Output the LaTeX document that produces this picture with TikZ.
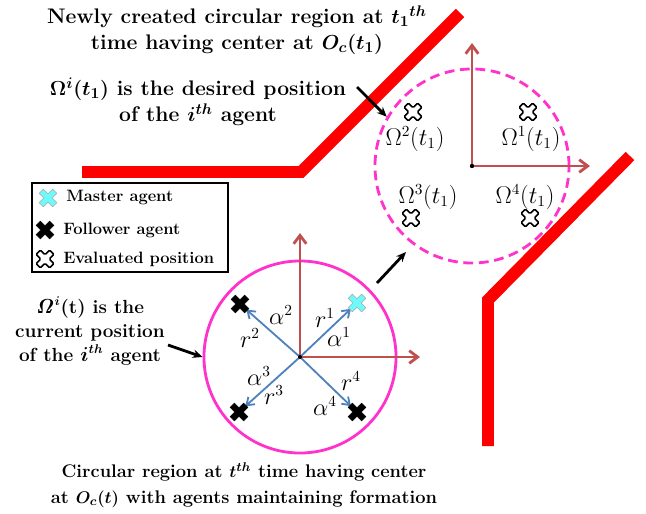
\documentclass[tikz,border=0pt]{standalone}
\usepackage{tikz}
\usetikzlibrary{arrows.meta, positioning, calc}
\usepackage{amsmath, amssymb}
\usepackage{xcolor}

\definecolor{wallred}{RGB}{255,0,0}
\definecolor{ringpink}{RGB}{255,51,204}
\definecolor{axisred}{RGB}{192,80,77}
\definecolor{vecblue}{RGB}{79,129,189}
\definecolor{mastercyan}{RGB}{110,250,250}

\tikzset{
  xmark/.pic={
    \path[pic actions, rotate=45]
      (3,3) -- (3,9.5) -- (-3,9.5) -- (-3,3) -- (-9.5,3) -- (-9.5,-3)
      -- (-3,-3) -- (-3,-9.5) -- (3,-9.5) -- (3,-3) -- (9.5,-3)
      -- (9.5,3) -- cycle;
  }
}

\begin{document}
\begin{tikzpicture}[
  x=0.025cm, y=-0.025cm, >=Stealth,
  wall/.style={wallred, line width=8.5pt, line join=miter},
  ring/.style={circle, draw=ringpink, line width=2pt, inner sep=0pt,
               minimum size=4.8cm},
  axis/.style={-{Straight Barb[length=6pt, width=9pt]}, axisred, line width=2pt},
  vec/.style={-{Straight Barb[length=5pt, width=7pt]}, vecblue, line width=1.3pt,
              shorten >=6pt},
  ptr/.style={-{Stealth[length=7pt, width=6pt]}, black, line width=2pt},
  note/.style={font=\fontsize{15}{18.5}\selectfont\bfseries\boldmath, align=center},
  lbl/.style={font=\fontsize{16}{18}\selectfont, inner sep=1pt},
  leg/.style={font=\fontsize{11.7}{13}\selectfont\bfseries, anchor=west, inner sep=0pt},
  master/.style={fill=mastercyan, draw=gray!70, line width=0.4pt},
  follower/.style={fill=black, draw=black, line width=0.4pt},
  evaluated/.style={fill=white, draw=black, line width=1.1pt, rounded corners=0.8pt}
]
  \useasboundingbox (0,0) rectangle (646,514);

  %--- walls ---
  \draw[wall] (82,172) -- (301,172) -- (460,13);
  \draw[wall] (630,156) -- (488,300) -- (488,446);

  %--- new circular region at t1 ---
  \coordinate (oc1) at (472,166);
  \node[ring, dashed, dash pattern=on 7pt off 4pt, minimum size=4.85cm]
    (reg1) at (oc1) {};
  \coordinate (ax1y) at (472,43);
  \coordinate (ax1x) at (590,166);
  \draw[axis] (oc1) -- (ax1y);
  \draw[axis] (oc1) -- (ax1x);
  \fill (oc1) circle (2.2);

  \coordinate (ev1) at (528,112);
  \coordinate (ev2) at (413,112);
  \coordinate (ev3) at (411,218);
  \coordinate (ev4) at (530,218);
  \foreach \p in {ev1,ev2,ev3,ev4}
    \pic[evaluated] at (\p) {xmark};

  \node[lbl] (om1) at (531,139) {$\Omega^1(t_1)$};
  \node[lbl] (om2) at (415,139) {$\Omega^2(t_1)$};
  \node[lbl] (om3) at (428,197) {$\Omega^3(t_1)$};
  \node[lbl] (om4) at (525,197) {$\Omega^4(t_1)$};

  %--- current circular region at t ---
  \coordinate (oc0) at (300,357);
  \node[ring] (reg0) at (oc0) {};
  \coordinate (ax0y) at (300,233);
  \coordinate (ax0x) at (420,357);
  \draw[axis] (oc0) -- (ax0y);
  \draw[axis] (oc0) -- (ax0x);

  \coordinate (ag1) at (357,303);
  \coordinate (ag2) at (240,304);
  \coordinate (ag3) at (239,412);
  \coordinate (ag4) at (357,412);
  \foreach \p in {ag1,ag2,ag3,ag4}
    \draw[vec] (oc0) -- (\p);
  \fill (oc0) circle (2);
  \pic[master] at (ag1) {xmark};
  \foreach \p in {ag2,ag3,ag4}
    \pic[follower] at (\p) {xmark};

  \node[lbl] (r1) at (325,318) {$r^1$};
  \node[lbl] (a1) at (339,337) {$\alpha^1$};
  \node[lbl] (a2) at (281,315) {$\alpha^2$};
  \node[lbl] (r2) at (250,338) {$r^2$};
  \node[lbl] (a3) at (259,376) {$\alpha^3$};
  \node[lbl] (r3) at (274,395) {$r^3$};
  \node[lbl] (r4) at (351,381) {$r^4$};
  \node[lbl] (a4) at (325,406) {$\alpha^4$};

  % move from old region to new one
  \coordinate (mvs) at (377,283);
  \coordinate (mve) at (406,252);
  \draw[ptr] (mvs) -- (mve);

  %--- texts ---
  \node[note] (ttl) at (237,30)
    {Newly created circular region at ${t_1}^{th}$\\time having center at $O_c(t_1)$};
  \node[note] (dsr) at (198,102)
    {$\Omega^i(t_1)$ is the desired position\\of the $i^{th}$ agent};
  \coordinate (dsrs) at (357,87);
  \draw[ptr] (dsrs) -- (reg1.150);

  \node[note, font=\fontsize{13.5}{17}\selectfont\bfseries\boldmath] (cur) at (90,331)
    {$\mathit{\Omega}^i$(t) is the\\current position\\of the $i^{th}$ agent};
  \coordinate (curs) at (168,345);
  \draw[ptr] (curs) -- (reg0.west);

  \node[note, font=\fontsize{13}{18}\selectfont\bfseries\boldmath] (btm) at (244,485)
    {Circular region at $t^{th}$ time having center\\at $O_c(t)$ with agents maintaining formation};

  %--- legend ---
  \node[draw, line width=1.4pt, minimum width=4.9cm, minimum height=2.22cm,
        inner sep=0pt] (lgd) at (130,227.5) {};
  \pic[master] at (48,198) {xmark};
  \node[leg] (lgm) at (66,198) {Master agent};
  \pic[follower] at (45,230) {xmark};
  \node[leg] (lgf) at (63,230) {Follower agent};
  \pic[evaluated] at (45,259) {xmark};
  \node[leg] (lge) at (63,259) {Evaluated position};
\end{tikzpicture}
\end{document}
